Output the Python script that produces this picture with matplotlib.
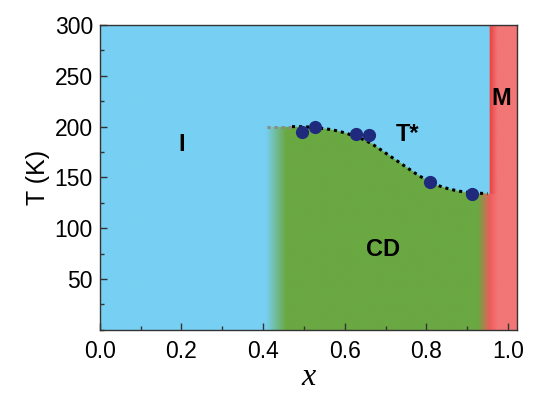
import numpy as np
import matplotlib
matplotlib.use("Agg")
import matplotlib.pyplot as plt
from matplotlib.ticker import MultipleLocator

# ---- data ----
pts_x = [0.495, 0.527, 0.627, 0.660, 0.810, 0.912]
pts_T = [195, 200, 193, 192, 145, 134]

curve_x = [0.41, 0.45, 0.50, 0.53, 0.57, 0.60, 0.63, 0.66, 0.70, 0.74, 0.78, 0.82, 0.86, 0.90, 0.95]
curve_T = [200, 200, 200, 199, 197, 194, 190, 185, 174, 163, 152, 143, 138, 135, 134]

x_cd_start = 0.405     # start of CD phase (fade)
x_cd_full = 0.455      # CD fully developed
x_metal = 0.953        # metal phase boundary
gray_end = 0.47        # gray part of the dotted boundary

labels = ["I", "T*", "M", "CD"]
label_x = [0.20, 0.755, 0.983, 0.694]
label_T = [182, 192, 228, 79]

xticks = [0.0, 0.2, 0.4, 0.6, 0.8, 1.0]
yticks = [50, 100, 150, 200, 250, 300]

# ---- colours ----
blue = np.array([119, 208, 243]) / 255
green = np.array([106, 168, 66]) / 255
red_dark = np.array([236, 64, 66]) / 255
red_light = np.array([242, 118, 118]) / 255

plt.rcParams['font.family'] = ['Liberation Sans', 'DejaVu Sans']

fig = plt.figure(figsize=(5.34, 3.96), dpi=100)
ax = fig.add_axes([0.187, 0.167, 0.781, 0.770])

xmin, xmax, ymin, ymax = 0.0, 1.022, 0.0, 300.0
nx, ny = 900, 500
X, Y = np.meshgrid(np.linspace(xmin, xmax, nx), np.linspace(ymin, ymax, ny))
cb = np.interp(X, curve_x + [xmax], curve_T + [curve_T[-1]])
below = (Y <= cb) & (X >= curve_x[0] - 0.01)

img = np.ones((ny, nx, 3)) * blue
g = np.clip((X - x_cd_start) / (x_cd_full - x_cd_start), 0, 1) * below
img = img * (1 - g[..., None]) + green * g[..., None]
t = np.clip((X - x_metal) / 0.02, 0, 1)[..., None]
redc = red_dark * (1 - t) + red_light * t
r = np.where(below, np.clip((X - 0.925) / 0.03, 0, 1), (X >= x_metal).astype(float))
col = np.where(below[..., None], 0.5 * redc + 0.5 * red_light, redc)
img = img * (1 - r[..., None]) + col * r[..., None]

ax.imshow(img, extent=[xmin, xmax, ymin, ymax], origin='lower', aspect='auto',
          interpolation='bilinear', zorder=0)

# boundary line
cx = np.array(curve_x)
cT = np.array(curve_T)
fine_x = np.linspace(cx[0], cx[-1], 400)
fine_T = np.interp(fine_x, cx, cT)
k = 15
pad = np.pad(fine_T, k, mode='edge')
fine_T = np.convolve(pad, np.ones(2 * k + 1) / (2 * k + 1), mode='valid')
m1 = fine_x <= gray_end
ax.plot(fine_x[m1], fine_T[m1], color='#8a8a8a', lw=2.2, ls=(0, (1, 1.3)), zorder=2)
ax.plot(fine_x[~m1], fine_T[~m1], color='black', lw=2.2, ls=(0, (1, 1.3)), zorder=2)

ax.plot(pts_x, pts_T, 'o', color='#1f2a7c', ms=8.5, zorder=3)

for s, lx, ly in zip(labels, label_x, label_T):
    ax.text(lx, ly, s, fontsize=17, fontweight='bold', ha='center', va='center', zorder=4)

ax.set_xlim(xmin, xmax)
ax.set_ylim(ymin, ymax)
ax.set_xticks(xticks)
ax.set_xticklabels([f"{v:.1f}" for v in xticks])
ax.set_yticks(yticks)
ax.xaxis.set_minor_locator(MultipleLocator(0.1))
ax.yaxis.set_minor_locator(MultipleLocator(25))
ax.tick_params(which='both', direction='in', labelsize=16.5, color='#333333')
ax.tick_params(which='major', length=5, width=1)
ax.tick_params(which='minor', length=3, width=1)
ax.tick_params(axis='x', pad=7)
ax.tick_params(axis='y', pad=5)
for sp in ax.spines.values():
    sp.set_color('#333333')
    sp.set_linewidth(1.0)

ax.set_ylabel("T (K)", fontsize=18, labelpad=3)
ax.set_xlabel("x", fontsize=23, fontstyle='italic', family=['Liberation Serif', 'DejaVu Serif'], labelpad=0)

fig.savefig("out.png", dpi=100)
